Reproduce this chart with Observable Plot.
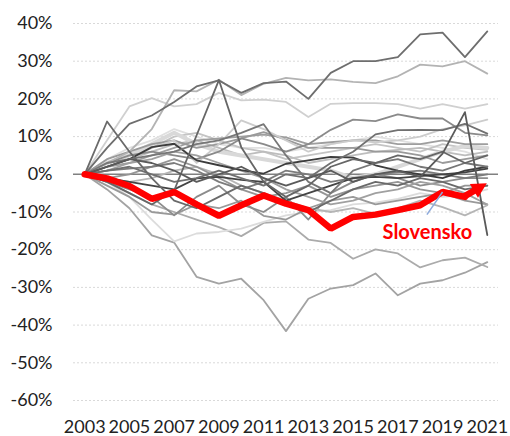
<!DOCTYPE html>
<html><head><meta charset="utf-8">
<script src="https://cdn.jsdelivr.net/npm/d3@7"></script>
<script src="https://cdn.jsdelivr.net/npm/@observablehq/plot@0.6"></script>
<style>body{margin:0;background:#fff}#chart{width:510px;height:436px}</style>
</head><body><div id="chart"></div><script>
const years = [2003,2004,2005,2006,2007,2008,2009,2010,2011,2012,2013,2014,2015,2016,2017,2018,2019,2020,2021];
const xTicks = [2003,2005,2007,2009,2011,2013,2015,2017,2019,2021];
const yTicks = [-60,-50,-40,-30,-20,-10,0,10,20,30,40];

// gray countries (values in %, relative to 2003)
const sA = [0,7,13.4,15.6,19.2,23.3,24.9,21.6,24.2,24.6,20,26.9,30,30,31.1,37.1,37.6,31.1,37.9];
const sB = [0,3,6,12,22.3,22,25.1,21,24,25.6,24.9,25.2,24.5,24.2,26,29.1,28.6,30,26.7];
const sC = [0,9,18,20.2,18,18.6,21.6,19.6,19.8,19.2,15.2,18.7,18.9,18.9,18.6,17.4,18.6,17.4,18.6];
const sD = [0,-4,-9,-16.2,-18.1,-27.2,-29,-27.7,-33.4,-41.6,-33,-30.3,-29.4,-26.3,-32.1,-29,-28.1,-26.1,-23.3];
const sE = [0,-2,-5,-8,-10,-12,-14,-16.4,-12.9,-12.5,-17.3,-18.2,-22.4,-19.9,-21,-24.7,-22.8,-22.1,-24.6];
const sF = [0,-2,-6,-12,-17.8,-15.7,-15.3,-14.4,-12.6,-10.9,-10,-9.5,-8,-7.5,-6.5,-5,-6,-5.5,-4];
const sG = [0,3,5,6,5,4,6,9.5,8,6,8,11.8,14.5,14.1,15.9,14.8,14.8,11,10.3];
const sH = [0,2,4,7,9,3,8,14.3,12,9,6,8,9,8.5,9,10,12,13,14.5];
const sI = [0,3,4,5,6,8,9,11,13.3,5,-2,-5,1,3,4,2,1,3,2];
const sJ = [0,1,2,0,-2,-1,1,-1,-3,0,-1,3,6,10.6,11.7,11.8,11.7,13.4,10.8];
const sK = [0,4,6,8,9,7,8,9.5,11.2,9.2,7,7,7,6,6,5,3,4,5];
const sL = [0,3,5,8,11,8,6,5,4,3,2,1,-1,0,2,4,6,7.5,7];
const sM = [0,2,4,7.2,8.1,3.7,2.4,1.1,0.2,2.8,3.7,4.6,4.4,2.4,1,0,-1,1,2];
const sN = [0,-1,-2,-3,-4,-1.1,-0.7,-1.5,-2,-7,-5,-3,-1,-0.7,-1,-0.5,0,0.5,1.5];
const sO = [0,-3,-6,-10,-10.7,-8,-9,-7,-11,-12,-9,-7,-6,-8,-7,-6,-5,-7,-8];
const sP = [0,-2,-4,-6,-10.9,-6,-3,-8,-10,-6,-12,-5,-2,0,-1,-3,-2,-1,-1];
const sQ = [0,2,4,6,8,9,7,5,6,5,3,4,5,6,6.5,7,6,5,6];
const sR = [0,1,3,4,6,5,3,1,-1,-4,-6,-8,-7,-5,-4,-2,-3,-5,-8];
const sT = [0,-1,-2,-1,1,2,0,-3,-5,-7,-9,-10,-9,-10.5,-9,-7,-8.7,-10.9,-8.2];
const sU = [0,3,5,7,10,11,9,7,6,4,5,6,7,8,7,6,8,7,6.5];
const sV = [0,2,3,5,7,9,9.5,10,10.5,9.8,8,8.5,9,9,8,8,9,8,8];
const sW = [0,1,1.5,2,3,1,-2,-4,-2,1,0,-2,-1,0,0.5,1,0,-1,0];
const sX = [0,4,7,9,12,10,8,7,7,6,7,8,9,10,9,8,7,6,4];
const sY = [0,-1,0,2,4,2,-1,-4,-6,-5,-3,-6,-4,-3,-2,-4,-5,-3,-3];
const s2004 = [0,14,6,-1,-7,-9,-6,-3,-5,-8,-10,-7,-4,-2,-3,-1,-2,-4,-3];
const s2009 = [0,-2,-5,-8,-4.3,10.3,25,7.2,-2,-6,-3,2,4,3,5,4,6,3,5];
const s2020 = [0,2,4,3,1,-2,0,2,-1,-3,-1,1,-2,0,1,-0.7,5.5,16.5,-16.1];
const slovensko = [0,-1.1,-3.1,-6.5,-4.7,-8,-11,-8.2,-5.6,-7.8,-9.5,-14.4,-11.3,-10.7,-9.5,-8.2,-4.7,-6,-2.5];

const grays = [
  {v: sX, c: "#e0e0e0", w: 1.8}, {v: sU, c: "#c4c4c4", w: 1.8}, {v: sQ, c: "#bdbdbd", w: 1.8},
  {v: sL, c: "#d9d9d9", w: 4}, {v: sV, c: "#9e9e9e", w: 1.8}, {v: sK, c: "#9a9a9a", w: 1.8},
  {v: sH, c: "#cccccc", w: 1.8}, {v: sG, c: "#8a8a8a", w: 1.8}, {v: sC, c: "#d0d0d0", w: 1.8},
  {v: sB, c: "#b3b3b3", w: 1.8}, {v: sA, c: "#6e6e6e", w: 1.8}, {v: sD, c: "#a3a3a3", w: 1.8},
  {v: sE, c: "#ababab", w: 1.8}, {v: sF, c: "#dcdcdc", w: 1.8}, {v: sO, c: "#999999", w: 1.8},
  {v: sP, c: "#8c8c8c", w: 1.8}, {v: sR, c: "#a0a0a0", w: 1.8}, {v: sT, c: "#b5b5b5", w: 1.8},
  {v: sY, c: "#959595", w: 1.8}, {v: sW, c: "#7c7c7c", w: 1.8}, {v: sN, c: "#444444", w: 1.8},
  {v: sM, c: "#3c3c3c", w: 1.8}, {v: sI, c: "#777777", w: 1.8}, {v: sJ, c: "#707070", w: 1.8},
  {v: s2004, c: "#6a6a6a", w: 1.8}, {v: s2009, c: "#666666", w: 1.8}, {v: s2020, c: "#5a5a5a", w: 1.8}
];

const label = {text: "Slovensko", year: 2018.32, value: -15.4};
const leader = {year1: 2018.3, value1: -10.7, year2: 2019, value2: -4.7};

const grayRows = grays.flatMap((g, i) => years.map((y, j) => ({id: i, year: y, value: g.v[j], c: g.c, w: g.w})));
const redRows = years.map((y, j) => ({year: y, value: slovensko[j]}));

// arrowhead at the end of the red series, drawn via the plot's scales
function arrowHead(index, scales) {
  const n = redRows.length;
  const x0 = scales.x(redRows[n - 2].year), y0 = scales.y(redRows[n - 2].value);
  const x1 = scales.x(redRows[n - 1].year), y1 = scales.y(redRows[n - 1].value);
  const dx = x1 - x0, dy = y1 - y0, len = Math.hypot(dx, dy);
  const ux = dx / len, uy = dy / len;
  const L = 15, H = 8;
  const bx = x1 - ux * L, by = y1 - uy * L;
  const g = d3.create("svg:g");
  g.append("line").attr("x1", x0).attr("y1", y0).attr("x2", bx + ux * 1).attr("y2", by + uy * 1)
    .attr("stroke", "#ff0000").attr("stroke-width", 6.5);
  g.append("polygon")
    .attr("points", [[x1, y1], [bx - uy * H, by + ux * H], [bx + uy * H, by - ux * H]].map(p => p.join(",")).join(" "))
    .attr("fill", "#ff0000");
  return g.node();
}

const chart = Plot.plot({
  width: 510,
  height: 436,
  marginTop: 23,
  marginBottom: 36,
  marginLeft: 73,
  marginRight: 12,
  style: {fontFamily: "Lato, 'Open Sans', sans-serif", fontSize: "18px", color: "#222", background: "#fff"},
  x: {domain: [2002.5, 2021.5], ticks: xTicks, tickFormat: d => String(d), tickSize: 0, tickPadding: 20, label: null},
  y: {domain: [-60, 40], ticks: yTicks, tickFormat: d => d + "%", tickSize: 0, tickPadding: 21, label: null},
  marks: [
    Plot.ruleY(yTicks.filter(d => d !== 0), {stroke: "#d9d9d9", strokeWidth: 1, strokeDasharray: "2,2"}),
    Plot.ruleY([0], {stroke: "#808080", strokeWidth: 1.5}),
    Plot.line(grayRows, {x: "year", y: "value", z: "id", stroke: "c", strokeWidth: "w", strokeLinejoin: "round"}),
    Plot.line(redRows.filter(d => d.year <= 2020), {x: "year", y: "value", stroke: "#ff0000", strokeWidth: 6.5, strokeLinejoin: "miter"}),
    arrowHead,
    Plot.link([leader], {x1: "year1", y1: "value1", x2: "year2", y2: "value2", stroke: "#8eaadb", strokeWidth: 1.5}),
    Plot.text([label], {x: "year", y: "value", text: "text", fill: "#ff0000", fontWeight: "bold", fontSize: 20, textAnchor: "middle", lineAnchor: "middle"})
  ]
});
document.getElementById("chart").appendChild(chart);
</script></body></html>
